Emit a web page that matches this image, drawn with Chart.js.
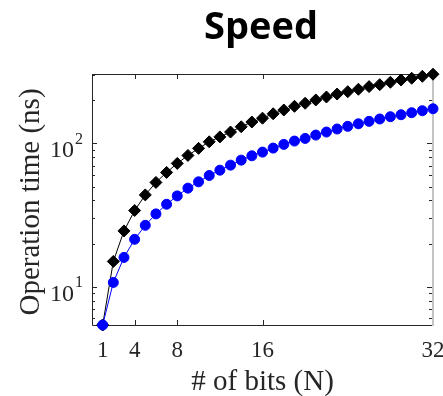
<!DOCTYPE html>
<html>
<head>
<meta charset="utf-8">
<script src="https://cdn.jsdelivr.net/npm/chart.js@4.4.1/dist/chart.umd.min.js"></script>
<style>
  html, body { margin: 0; padding: 0; background: #fff; }
  #wrap { width: 443px; height: 396px; }
</style>
</head>
<body>
<div id="wrap"><canvas id="speedChart"></canvas></div>
<script>
// values (ns)
const bits = [1, 2, 3, 4, 5, 6, 7, 8, 9, 10, 11, 12, 13, 14, 15, 16,
  17, 18, 19, 20, 21, 22, 23, 24, 25, 26, 27, 28, 29, 30, 31, 32];
const timeDiamond = [5.4, 15, 24.5, 34, 43.7, 53.4, 62.7, 72.5, 82.4, 92.3, 102.6, 111, 120, 130.6, 141, 150,
  161, 171, 181.5, 190.6, 201, 210.8, 221, 229.6, 238.6, 249, 257, 267, 277, 285, 294, 304];
const timeCircle = [5.4, 10.7, 16, 21.4, 26.8, 32.2, 37.6, 43, 48.7, 53.9, 59.7, 65, 70.5, 76.4, 81.9, 86.9,
  92.7, 98.4, 103.8, 108.3, 114.3, 120, 126, 131.5, 137, 142.5, 148, 153.5, 158.5, 163.7, 169, 174.5];
const xTickValues = [1, 4, 8, 16, 32];
const yDecades = [1, 2];  // exponents of the labelled decades
const yMinor = [6, 7, 8, 9, 20, 30, 40, 50, 60, 70, 80, 90, 200, 300];

const TEXT = '#262626';
const SERIF = '"Liberation Serif", "Times New Roman", serif';

const matlabAxes = {
  id: 'matlabAxes',
  beforeDatasetsDraw(chart) {
    const { ctx, chartArea: a, scales: { x, y } } = chart;
    ctx.save();
    ctx.lineWidth = 1;
    ctx.strokeStyle = TEXT;
    ctx.beginPath();
    ctx.moveTo(a.left + 0.5, a.top + 0.5);
    ctx.lineTo(a.right, a.top + 0.5);
    ctx.moveTo(a.left + 0.5, a.top);
    ctx.lineTo(a.left + 0.5, a.bottom + 0.5);
    ctx.lineTo(a.right, a.bottom + 0.5);
    ctx.stroke();

    // x ticks, inward on bottom and top
    ctx.beginPath();
    xTickValues.forEach(v => {
      if (v === 1) return;
      const px = Math.round(x.getPixelForValue(v)) + 0.5;
      ctx.moveTo(px, a.bottom);
      ctx.lineTo(px, a.bottom - 5);
      ctx.moveTo(px, a.top);
      ctx.lineTo(px, a.top + 5);
    });
    // y ticks, inward on left and right
    const yTick = (v, len) => {
      const py = Math.round(y.getPixelForValue(v)) + 0.5;
      ctx.moveTo(a.left, py);
      ctx.lineTo(a.left + len, py);
      ctx.moveTo(a.right - 1, py);
      ctx.lineTo(a.right - 1 - len, py);
    };
    yDecades.forEach(e => yTick(Math.pow(10, e), 5));
    yMinor.forEach(v => yTick(v, 3));
    ctx.stroke();

    // right border, light grey
    ctx.strokeStyle = '#c4c4c4';
    ctx.lineWidth = 2;
    ctx.beginPath();
    ctx.moveTo(a.right, a.top);
    ctx.lineTo(a.right, a.bottom + 1);
    ctx.stroke();
    ctx.restore();
  },
  afterDraw(chart) {
    const { ctx, chartArea: a, scales: { x, y } } = chart;
    ctx.save();

    // title
    ctx.fillStyle = '#000';
    ctx.font = 'bold 38px "Open Sans", sans-serif';
    ctx.textAlign = 'center';
    ctx.textBaseline = 'alphabetic';
    ctx.fillText('Speed', 261, 39);

    ctx.fillStyle = TEXT;
    // x tick labels
    ctx.font = '23px ' + SERIF;
    xTickValues.forEach(v => ctx.fillText(String(v), x.getPixelForValue(v), 357));

    // y tick labels 10^e
    yDecades.forEach(e => {
      const py = y.getPixelForValue(Math.pow(10, e));
      ctx.font = '16px ' + SERIF;
      ctx.textAlign = 'right';
      ctx.fillText(String(e), 83, py + 0.5);
      const ew = ctx.measureText(String(e)).width;
      ctx.font = '24px ' + SERIF;
      ctx.fillText('10', 83 - ew - 1, py + 14);
    });

    // axis titles
    ctx.textAlign = 'center';
    ctx.font = '29px ' + SERIF;
    ctx.fillText('# of bits (N)', (a.left + a.right) / 2, 390);
    ctx.save();
    ctx.translate(39, 202);
    ctx.rotate(-Math.PI / 2);
    ctx.fillText('Operation time (ns)', 0, 0);
    ctx.restore();
    ctx.restore();
  }
};

new Chart(document.getElementById('speedChart'), {
  type: 'line',
  data: {
    datasets: [
      {
        label: 'circle',
        data: bits.map((n, i) => ({ x: n, y: timeCircle[i] })),
        borderColor: '#0000ff',
        backgroundColor: '#0000ff',
        borderWidth: 1,
        pointStyle: 'circle',
        pointRadius: 5,
        pointBorderWidth: 1,
        clip: false
      },
      {
        label: 'diamond',
        data: bits.map((n, i) => ({ x: n, y: timeDiamond[i] })),
        borderColor: '#000000',
        backgroundColor: '#000000',
        borderWidth: 1,
        pointStyle: 'rectRot',
        pointRadius: 6,
        pointBorderWidth: 1,
        clip: false
      }
    ]
  },
  options: {
    responsive: true,
    maintainAspectRatio: false,
    animation: false,
    events: [],
    layout: { padding: { left: 92, right: 10, top: 74, bottom: 71 } },
    plugins: { legend: { display: false }, title: { display: false }, tooltip: { enabled: false } },
    scales: {
      x: { type: 'linear', min: 0, max: 32, display: false },
      y: { type: 'logarithmic', min: 5.4, max: 305, display: false }
    }
  },
  plugins: [matlabAxes]
});
</script>
</body>
</html>
